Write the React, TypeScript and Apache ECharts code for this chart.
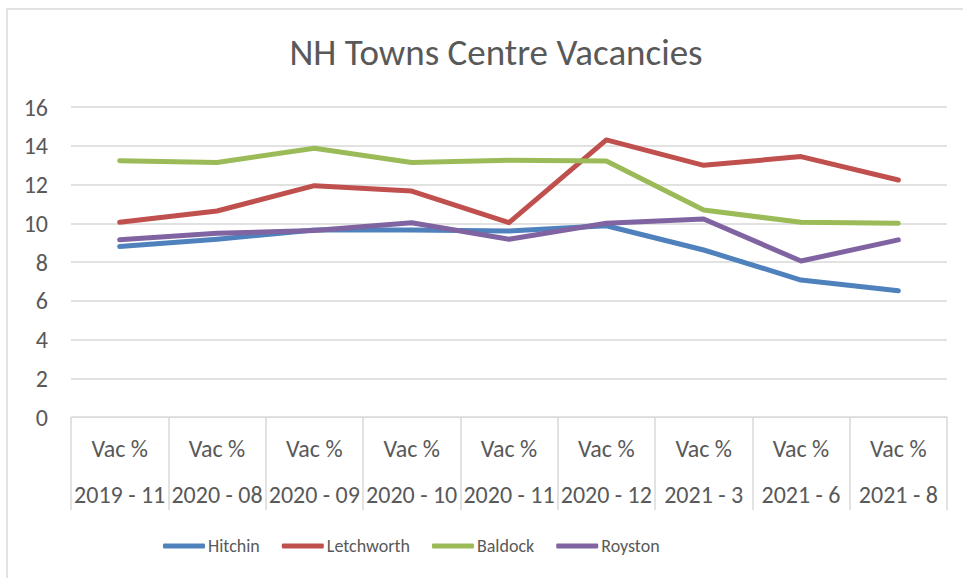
import React, { useEffect, useRef } from "react";
import * as echarts from "echarts";

const categories = [
  "2019 - 11",
  "2020 - 08",
  "2020 - 09",
  "2020 - 10",
  "2020 - 11",
  "2020 - 12",
  "2021 - 3",
  "2021 - 6",
  "2021 - 8",
];
const measureLabel = "Vac %";

const hitchin = [8.8, 9.17, 9.65, 9.65, 9.6, 9.87, 8.62, 7.07, 6.52];
const letchworth = [10.05, 10.63, 11.94, 11.66, 10.03, 14.3, 12.99, 13.44, 12.23];
const baldock = [13.23, 13.14, 13.87, 13.14, 13.25, 13.21, 10.68, 10.05, 10.0];
const royston = [9.15, 9.48, 9.62, 10.03, 9.17, 10.0, 10.22, 8.05, 9.14];

const seriesNames = ["Hitchin", "Letchworth", "Baldock", "Royston"];
const seriesColors = ["#4F81BD", "#C0504D", "#9BBB59", "#8064A2"];

const FONT = "'Carlito', 'Liberation Sans Narrow', 'Liberation Sans', sans-serif";
const TEXT = "#595959";
const GRID = "#d9d9d9";

export default function App() {
  const ref = useRef<HTMLDivElement>(null);

  useEffect(() => {
    if (!ref.current) return;
    const chart = echarts.init(ref.current, null, { renderer: "svg" });
    const data = [hitchin, letchworth, baldock, royston];
    chart.setOption({
      animation: false,
      backgroundColor: "#ffffff",
      textStyle: { fontFamily: FONT },
      title: {
        text: "NH Towns Centre Vacancies",
        left: 491,
        textAlign: "center",
        top: 29,
        textStyle: {
          fontFamily: FONT,
          fontSize: 37,
          fontWeight: "normal",
          color: TEXT,
        },
      },
      legend: {
        left: 158,
        top: 532,
        itemWidth: 42,
        itemHeight: 5,
        itemGap: 22,
        icon: "roundRect",
        data: seriesNames,
        textStyle: { fontFamily: FONT, fontSize: 18, color: TEXT, padding: [0, 0, 0, -2] },
      },
      grid: { left: 71, right: 16, top: 107, bottom: 161, containLabel: false },
      xAxis: {
        type: "category",
        data: categories,
        boundaryGap: true,
        axisLine: { show: true, lineStyle: { color: GRID, width: 1 } },
        axisTick: { show: true, length: 93, lineStyle: { color: GRID, width: 1.5 } },
        axisLabel: {
          interval: 0,
          margin: 8,
          formatter: (v: string) => `{a|${measureLabel}}\n{b|${v}}`,
          rich: {
            a: { fontFamily: FONT, fontSize: 24, color: TEXT, lineHeight: 46 },
            b: { fontFamily: FONT, fontSize: 24, color: TEXT, lineHeight: 46 },
          },
        },
      },
      yAxis: {
        type: "value",
        min: 0,
        max: 16,
        interval: 2,
        axisLine: { show: false },
        axisTick: { show: false },
        axisLabel: { fontFamily: FONT, fontSize: 24, color: TEXT, margin: 23 },
        splitLine: { lineStyle: { color: GRID, width: 1.5 } },
      },
      graphic: [
        {
          type: "rect",
          shape: { x: 7, y: 9, width: 1000, height: 1000 },
          style: { fill: "none", stroke: GRID, lineWidth: 1.5 },
          silent: true,
          z: -1,
        },
      ],
      series: seriesNames.map((name, i) => ({
        name,
        type: "line",
        data: data[i],
        symbol: "none",
        color: seriesColors[i],
        lineStyle: { width: 5, color: seriesColors[i], cap: "round", join: "round" },
      })),
    });
    return () => chart.dispose();
  }, []);

  return (
    <div
      ref={ref}
      style={{ position: "fixed", left: 0, top: 0, width: 963, height: 578 }}
    />
  );
}
